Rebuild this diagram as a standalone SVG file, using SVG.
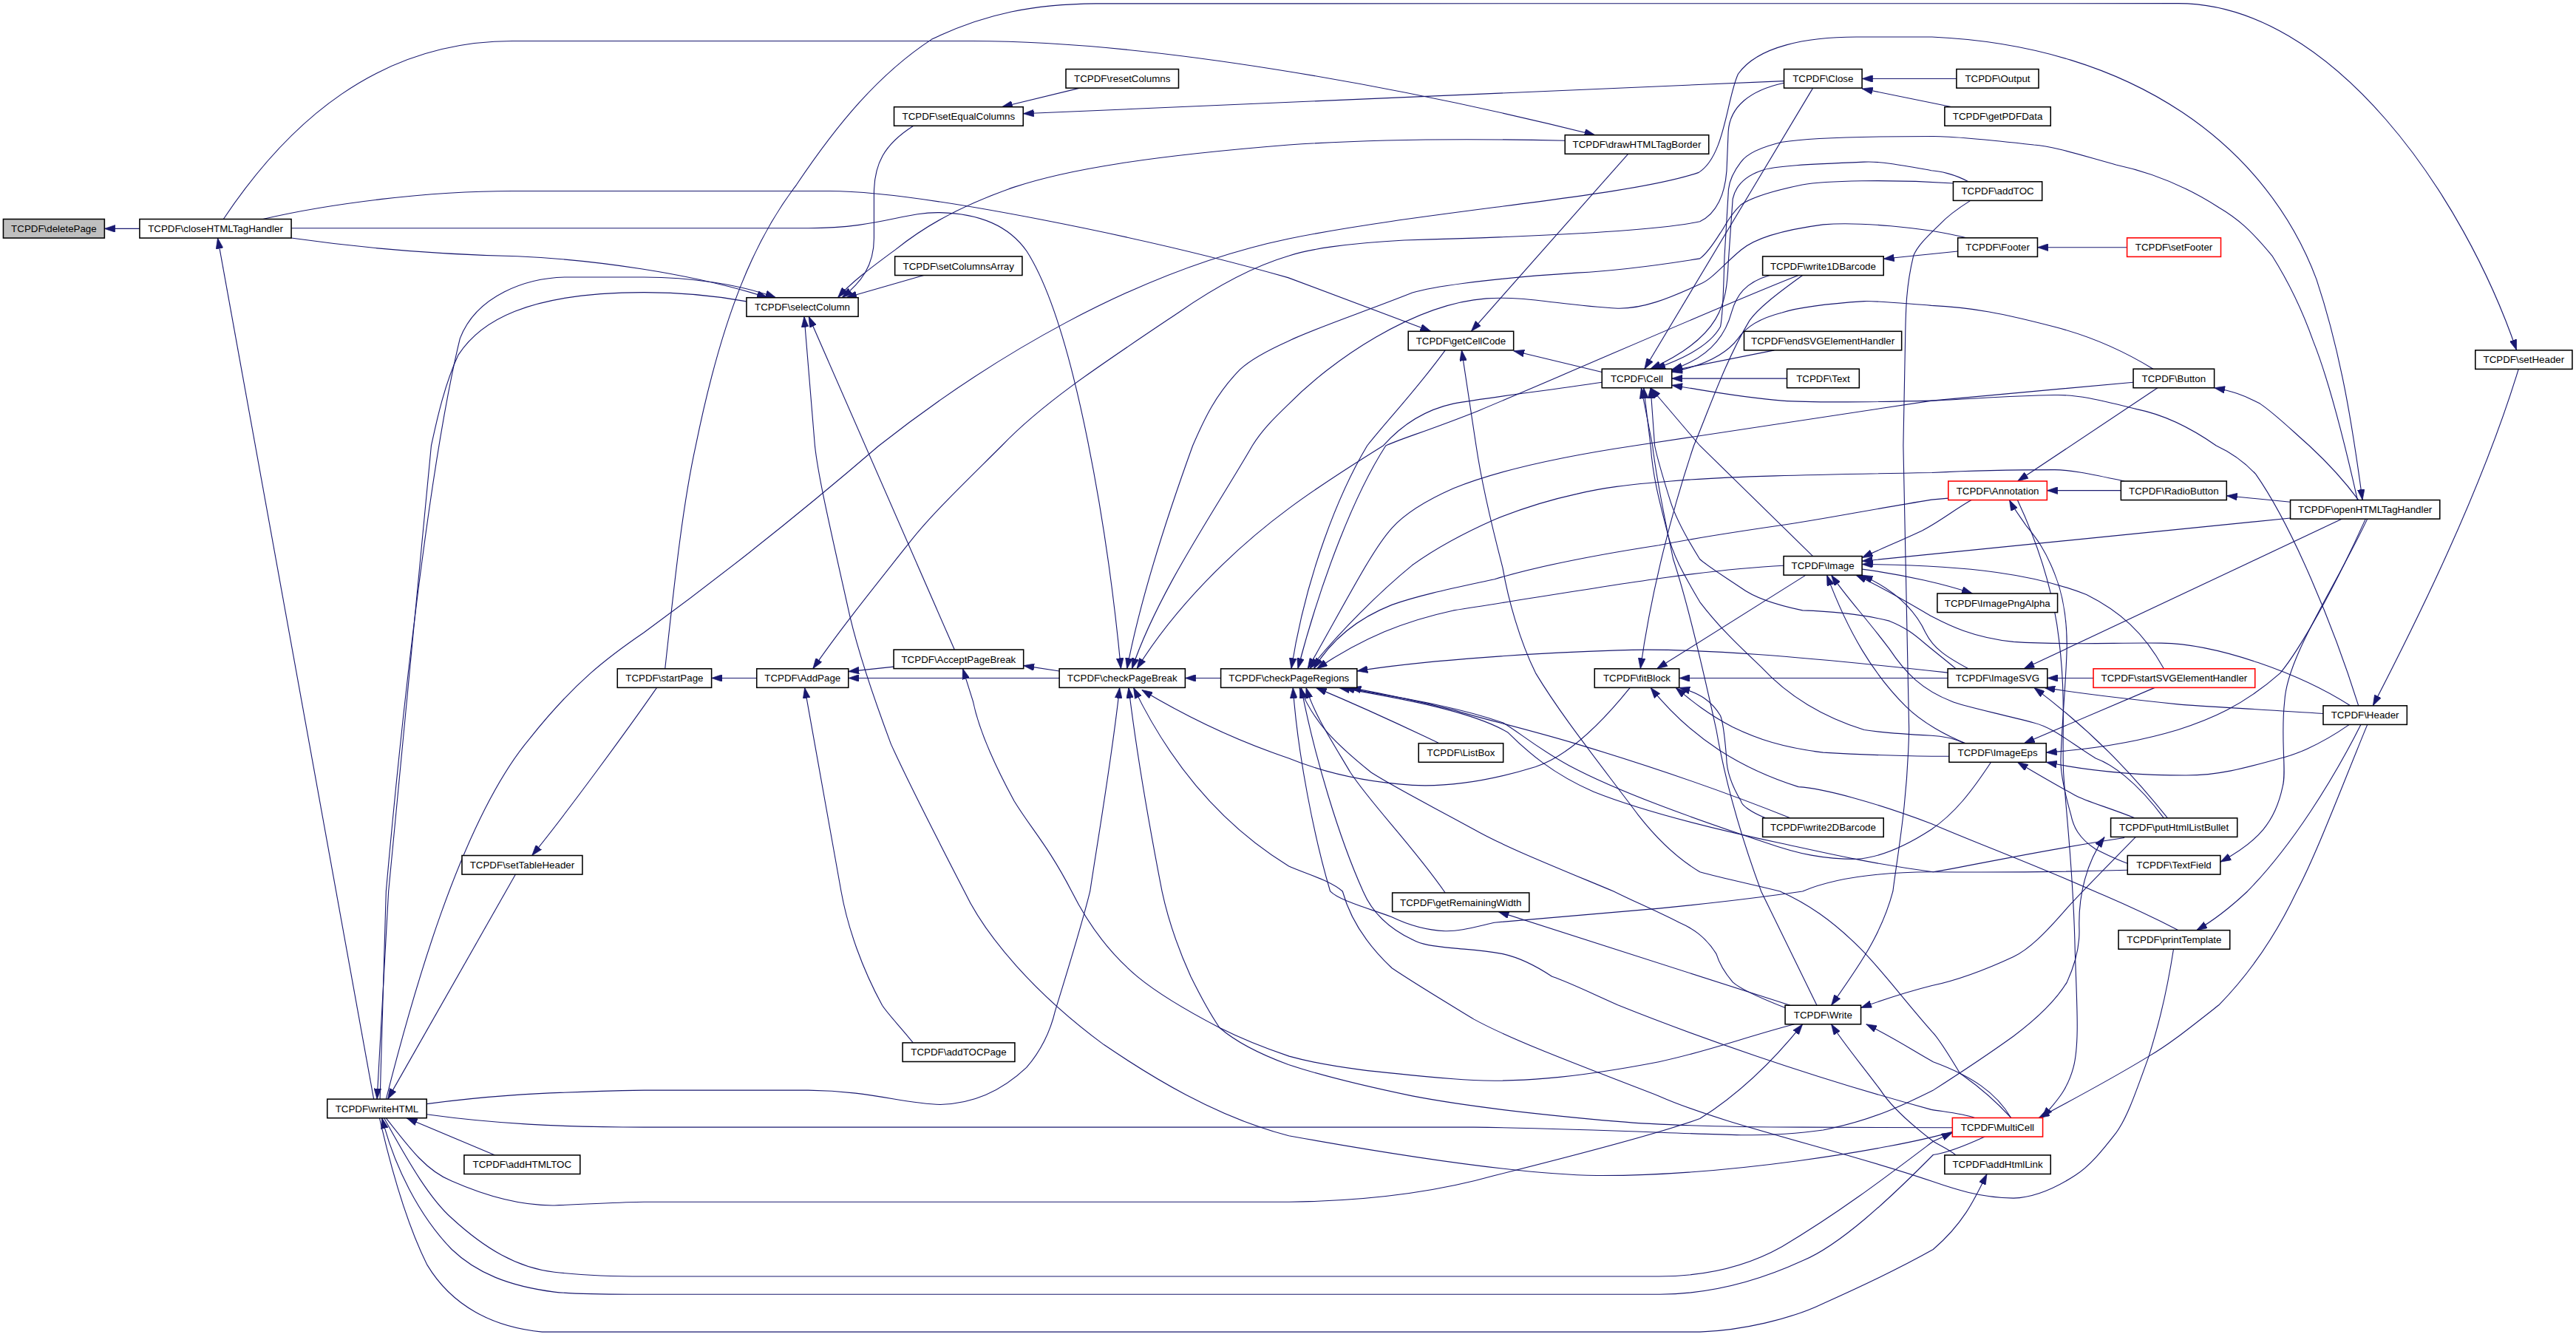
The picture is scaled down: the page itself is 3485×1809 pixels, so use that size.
<svg xmlns="http://www.w3.org/2000/svg" width="3485" height="1809" viewBox="0 0 3485 1809">
<style>
.n rect{fill:#fff;stroke:#000;stroke-width:0.7}
.n.red rect{stroke:#ff0000}
.n.root rect{fill:#bfbfbf}
.n text{font-family:"Liberation Sans",Arial,Helvetica,sans-serif;font-size:6px;text-anchor:middle;fill:#000}
#edges path{fill:none;stroke:#191970;stroke-width:0.5;marker-end:url(#a)}
</style>
<defs>
<marker id="a" markerUnits="userSpaceOnUse" viewBox="0 0 6.5 4.4" markerWidth="6.5" markerHeight="4.4" refX="6.5" refY="2.2" orient="auto"><path d="M0,0 L6.5,2.2 L0,4.4 z" fill="#191970" stroke="#191970" stroke-width="0.3"/></marker>
</defs>
<rect width="3485" height="1809" fill="#fff"/>
<g transform="scale(2.2226)">
<g id="edges">
<path d="M85,139.2 L63.6,139.2"/>
<path d="M227.5,669.1 L132.5,144.9"/>
<path d="M136,133.4 C175,75 230,25 312,25 L592,25 C700,25 850,52 970.9,82.2"/>
<path d="M160,133.4 C200,124 260,116.3 312,116.3 L505,116.3 C560,116.3 700,145 784,169 L871,201.7"/>
<path d="M177.3,138.9 L492,138.9 C535,138.9 550,129 572,129.4 C600,130 616,140 625,153 C655,200 675,330 682.3,407.1"/>
<path d="M177.3,144.9 C220,151 270,155 315,156 C360,158 420,166 467.3,181.2"/>
<path d="M231.3,669.1 L235,542.6 C245,430 262,280 280,206 C290,180 320,169 345,168.7 L392,168.7 C420,168.7 450,173 472.3,181.2"/>
<path d="M454.4,183.5 C430,179 410,178 392,178 C320,178 292,196 279,216 C270,235 265,260 262.5,271.3 L236.5,542.6 L229.5,669.1"/>
<path d="M313.8,532.3 L236,669.1"/>
<path d="M399.8,418.6 C385,440 345,495 323.8,520.8"/>
<path d="M404.8,407.1 C410,360 415,310 423.5,271.3 C440,190 460,145 484.8,112.5 C510,75 535,45 567,24 C600,8 630,2.5 667,2.2 L1325.6,2.1 C1420,2 1500,120 1531.8,213.2"/>
<path d="M235,669.1 C250,610 280,500 322.5,449.5 C350,415 370,400 392,385 C440,350 490,310 535,271.3 C600,220 690,165 784.5,145.3 C870,128 990,120 1034,105 C1050,95 1051,60 1058,45 C1070,28 1100,22.5 1130,22.5 L1176,22.5 C1300,28 1380,90 1410,170 C1425,215 1432,260 1438,304.4"/>
<path d="M657.3,53.6 L609.8,65.1"/>
<path d="M1085.9,49.3 C900,56 750,63 622.8,69.2"/>
<path d="M556,76.6 C538,88 532,100 532,118 L532,145 C532,162 524,172 512.5,181.2"/>
<path d="M562.3,167.6 L515,181.2"/>
<path d="M952.6,85.6 C880,84 830,85 784.5,88.2 C700,95 650,103 617,114 C580,127 560,140 545,152 C530,163 518,172 510,181.2"/>
<path d="M581,395.5 L492.3,192.7"/>
<path d="M1188.4,689 C1150,700 1050,716 972,715.6 C930,715 860,705 784.5,691.4 C740,680 700,655 672,636 C630,605 600,570 587,542.6 C565,500 550,470 542.3,452.9 C530,420 522,395 517.3,375.1 C505,320 498,290 496,271.3 L489.5,192.7"/>
<path d="M1085.9,50.5 C1065,55 1053,65 1052,80 L1051,104 C1050,118 1045,130 1034.7,134.9 C1000,142 900,145 854.7,146.2 C820,148 795,152 784.7,155.7 C760,163 735,178 717.3,190.3 C670,222 635,245 609.8,271.3 C585,296 565,315 552.3,331.9 C530,360 510,385 494.8,407.1"/>
<path d="M460.6,412.8 L433.1,412.8"/>
<path d="M544,405.9 L516.4,408.8"/>
<path d="M644.8,412.8 L516.4,412.8"/>
<path d="M644.8,408.5 L623,405.2"/>
<path d="M1092.2,623.5 C1060,632 1040,640 1009.7,646.4 C960,656 920,660 884.7,656.8 C840,653 810,650 784.7,643 C770,638 755,632 742.3,625.6 C720,614 705,605 692.3,594.5 C675,580 662,562 652.3,542.6 C638,515 628,505 617.3,487.6 C605,465 596,445 592.3,427 L586,407"/>
<path d="M555.8,634.8 C548,625 541,618 537,612 C525,590 516,565 512,542.6 L489.8,418.6"/>
<path d="M743.1,412.8 L721.4,412.8"/>
<path d="M975.1,232.7 C940,238 905,242 884.7,245.7 C865,250 852,260 842,271.3 C820,285 800,298 784.7,309.4 C750,335 715,370 692,407.1"/>
<path d="M1188.9,111.6 C1150,109 1110,110 1097,112.5 C1075,117 1065,121 1059.7,124.6 C1052,132 1050,138 1047,142 C1042,150 1038,155 1034.7,157.4 C1000,163 980,165 959.7,166.1 C900,170 870,175 859.7,178.2 C830,190 800,200 784.3,207.6 C770,214 760,220 754.8,224.9 C740,240 733,255 726,271.3 C712,310 695,360 686,407.1"/>
<path d="M1196.9,144.8 C1170,138 1130,135 1109.7,136.7 C1085,140 1068,145 1059.7,152.2 C1048,162 1042,170 1034.7,173 C1015,182 1000,188 984.7,187.7 C950,186 930,180 904.7,181.7 C860,185 810,220 784.7,245.7 C775,255 768,262 762.3,271.3 C740,310 705,360 689,407.1"/>
<path d="M879.7,213.2 C860,240 845,255 832.2,271.3 C815,300 795,350 786,407.1"/>
<path d="M1298.5,232.7 L1176,243.9 L995,271.3 C950,278 910,287 884.7,297.3 C865,306 853,315 847.2,321.5 C835,335 820,365 796,407.1"/>
<path d="M975.1,226.5 L921.3,213.6"/>
<path d="M991,93.7 L895.5,201.7"/>
<path d="M1224.1,680.5 C1210,665 1198,657 1193,653.4 C1185,640 1180,632 1176,628 C1160,610 1145,590 1132.2,577.2 C1115,560 1100,550 1083.5,542.6 C1065,538 1050,535 1034.7,530.8 C1020,522 1008,510 997.2,496.2 C970,460 950,435 934.7,409.7 C925,390 918,365 914.7,345.7 C908,320 902,295 898.5,271.3 L889.7,213.2"/>
<path d="M1103.5,53.6 L1001,224.6"/>
<path d="M1435,304.4 C1425,260 1415,225 1408,207.6 C1400,185 1392,170 1383,155.7 C1370,140 1362,133 1350.6,126.3 C1330,113 1310,105 1288,100.3 C1265,94 1250,89 1238,88.2 C1210,85 1190,83 1176.7,83 C1130,83 1100,84 1084.7,86.5 C1070,90 1063,94 1059.7,98.6 C1054,106 1052,112 1052,117.6 L1049.7,155.7 C1049,175 1049,190 1047.2,198.9 C1040,212 1020,220 1007.2,224.6"/>
<path d="M1198.1,110.6 C1190,106 1180,104 1175.6,103.8 C1160,101 1145,98 1134.7,98.6 C1100,100 1080,101 1072.2,103.8 C1060,108 1056,115 1054.7,121.1 L1052,160 C1051,185 1048,205 1004.5,224.6"/>
<path d="M1191.7,153 L1146.5,157.6"/>
<path d="M1294.7,150.6 L1240.2,150.6"/>
<path d="M1190.9,47.9 L1133.4,47.9"/>
<path d="M1188.1,65.1 L1133.4,54"/>
<path d="M1080,213.2 L1017.6,225.6"/>
<path d="M1087.7,230.4 L1017.6,230.4"/>
<path d="M1310.6,224.6 C1290,212 1270,204 1250.6,199 C1220,191 1200,187 1175.6,186 C1150,184 1140,183 1134.7,183.4 C1110,185 1095,187 1084.7,190.3 C1070,194 1062,200 1058,206 C1052,214 1040,222 1017.6,226.5"/>
<path d="M1435.6,429.6 C1420,380 1395,320 1373,288.6 C1365,280 1357,275 1349,271.3 C1330,258 1315,252 1300.6,249.1 C1280,244 1265,240 1250.6,240.5 C1220,241 1200,243 1175.6,243.9 C1130,245 1100,245 1084.7,243.9 C1060,242 1040,238 1017.6,234.5"/>
<path d="M1077.2,167.6 C1062,172 1057,180 1054,190 C1050,205 1040,218 1017.6,225"/>
<path d="M1094.7,167.6 C1050,185 960,225 900,250 C870,262 850,268 843.5,271.3 C825,300 805,350 790,407.1"/>
<path d="M1097.2,167.6 C1080,180 1070,188 1065,195 C1050,220 1040,250 1031,271.3 C1018,310 1005,360 998.5,407.1"/>
<path d="M1103.5,338.6 L1034.7,271.3 L1004.7,236.1"/>
<path d="M1105.9,612 L1072,542.6 C1060,510 1050,475 1044.7,444.3 C1035,400 1025,360 1018.5,340.5 C1012,310 1008,290 1005.9,271.3 L999,236.1"/>
<path d="M1190.6,407.1 C1182,400 1178,397 1172,392 C1165,386 1160,382 1150,378 C1130,373 1110,372 1097.2,371.6 C1080,368 1068,364 1059.7,357.8 C1048,350 1040,345 1034.7,340.5 C1025,325 1020,315 1017,305.9 C1012,290 1009,280 1007.2,271.3 L1004.7,236.1"/>
<path d="M1196,452.5 C1188,449 1182,448 1175.6,447.8 C1160,447 1145,446 1134.7,444.3 C1105,435 1085,420 1072.2,406.2 C1055,390 1045,380 1034.7,366.5 C1025,350 1018,338 1014.7,323.2 C1010,305 1006,290 1004.7,271.3 L1000.5,236.1"/>
<path d="M1293.1,292.9 C1270,288 1260,286 1250.6,286 C1210,286 1190,287 1176,287.7 C1100,289 1050,290 1017.2,292.9 C990,295 975,297 959.7,300.7 C940,305 925,310 909.7,316.3 C890,325 875,333 859.7,344 C840,360 815,385 797.2,407.1"/>
<path d="M1185.9,303.3 L1175.6,304.2 C1140,310 1110,316 1084.7,319.7 C1055,324 1030,328 1009.7,331.9 C970,338 935,345 909.7,352.6 C885,358 865,362 847.2,368.2 C825,377 810,390 799.7,407.1"/>
<path d="M1085.7,344.3 C1030,347 960,360 884.7,371.6 C855,378 830,388 801.5,407.1"/>
<path d="M1185.6,409.5 C1100,400 1030,394 984.7,395.9 C920,398 860,403 826,408.5"/>
<path d="M876,452.5 C860,445 840,435 801,418.6"/>
<path d="M1089.7,498 C1040,478 990,462 959.7,452.9 C930,444 900,437 884.7,432.2 C860,426 840,422 822,418.6"/>
<path d="M1295,529.7 C1250,531 1200,531 1175.6,530.8 C1140,531 1115,535 1097.2,542.6 C1060,548 1030,551 1009.7,553 C960,557 930,560 909.7,561.6 C895,565 888,567 879.7,566.8 C865,566 855,562 847.2,558.2 C830,552 815,548 809.7,542.6 C800,510 790,460 787,418.6"/>
<path d="M1293.1,510 C1240,518 1200,527 1176.7,530.8 C1140,526 1110,519 1084.7,513.5 C1040,504 1000,494 970,482 C945,471 930,458 918,446 C895,432 845,424 815,418.6"/>
<path d="M1086.6,613.5 C1065,605 1057,600 1054.7,597.9 C1048,590 1046,585 1044.7,580.7 C1038,570 1030,565 1022.2,561.6 C1005,553 995,549 982.2,542.6 C940,525 915,515 897.2,504.9 C870,490 850,480 834.7,470.3 C812,452 800,440 791,418.6"/>
<path d="M879.7,543.5 C860,515 835,490 822,470.3 C810,450 800,435 795,418.6"/>
<path d="M1202,680.5 C1195,678 1185,677 1175.6,675.5 C1100,655 1030,630 984.7,611.8 C965,603 955,598 944.7,594.5 C935,588 925,583 914.7,580.7 C900,578 892,578 884.7,577.2 C872,576 865,575 859.7,572 C845,565 835,555 829.7,542.6 C815,510 800,460 792,418.6"/>
<path d="M1323,577.8 C1318,610 1312,630 1308,643 C1300,665 1295,680 1288,689.7 C1280,700 1272,710 1263,715.6 C1250,724 1238,729 1225.6,729.4 C1205,729 1190,724 1175.6,719 C1120,700 1050,685 1009.7,667.2 C960,648 920,633 897.2,620.5 C875,607 860,598 847.2,589.3 C832,575 822,560 817.2,542.6 C810,536 795,532 784.5,527.3 C740,500 710,460 690,418.6"/>
<path d="M259.7,672 C290,668 320,665 392,663.7 L492,663.7 C530,664 550,672 572.3,672.4 C595,672 612,662 624.8,649.9 C635,638 640,625 642.3,615.3 C650,590 658,565 663.5,542.6 C670,500 677,460 681.5,418.6"/>
<path d="M1188.4,686.5 L1097.2,686.2 C1050,686 1010,685 984.7,682.7 C930,678 890,673 859.7,667.2 C830,661 805,655 784.3,648.1 C765,641 752,634 742.3,625.6 C735,615 730,605 724.8,594.5 C716,575 711,560 707.3,542.6 C700,505 692,460 687,418.6"/>
<path d="M992.2,418.6 C975,440 955,460 934.7,466.8 C905,476 880,479 859.7,478 C830,476 805,470 784.5,461.6 C750,450 720,435 695,420"/>
<path d="M235,680.6 C250,700 260,713 275,719 C300,730 320,734 337.5,733.8 C360,733 380,731.7 392,731.7 L784.7,731.7 C840,731 880,724 909.7,715.6 C960,703 1010,690 1034.7,681 C1060,665 1080,645 1097.2,623.5"/>
<path d="M233.8,680.6 C250,710 262,730 275,741.6 C295,760 315,772 337.5,774.4 C360,777 380,777 392,777 L1009.7,777 C1040,777 1065,770 1084.7,758.9 C1120,738 1150,715 1176.7,694.8 L1188.4,689.5"/>
<path d="M1208.1,692 C1195,698 1185,702 1176.7,703 C1150,730 1120,758 1097.2,767.5 C1070,780 1040,788 1009.7,787.9 L392,787.9 C370,788 350,788 337.5,786.5 C310,783 290,775 275,760.6 C255,740 240,710 232.5,680.6"/>
<path d="M231,680.6 C240,720 250,750 260,770 C275,795 300,808 330,810.8 L1034.7,810.8 C1060,810 1090,803 1109.7,793.5 C1140,780 1160,770 1176.7,760.6 C1195,745 1202,730 1209.4,714.7"/>
<path d="M1190.6,703.2 C1185,699 1180,697 1176.7,694.8 C1160,682 1150,672 1144.7,663.7 C1133,648 1122,635 1114.7,623.5"/>
<path d="M1224.1,680.5 C1215,665 1200,655 1176.7,646.4 C1165,640 1155,633 1135.9,623.5"/>
<path d="M1300,509.5 C1280,530 1265,545 1258,553 C1245,568 1235,578 1225.6,582.4 C1205,592 1190,597 1176,600 C1160,604 1148,608 1132.7,613.5"/>
<path d="M259.7,678.4 C300,684 340,686.2 392,686.2 L897.2,686.2 C960,687 1020,690 1059.7,691 C1080,691 1095,690 1109.7,687.9 C1140,682 1160,672 1176.7,663.7 C1195,652 1210,642 1225.6,630.8 C1240,620 1252,608 1258.1,598 C1264,585 1266,575 1265.6,565.1 C1265,545 1270,525 1281,509.5"/>
<path d="M1437,441.1 C1420,475 1395,515 1368,542.6 C1358,552 1348,560 1337,566.3"/>
<path d="M1441,441.1 C1425,480 1410,520 1398,542.6 C1385,570 1370,592 1350.6,611.8 C1330,628 1320,636 1308,643 C1280,660 1260,670 1241,680.5"/>
<path d="M1326,566.3 C1300,553 1285,547 1275,542.6 C1240,527 1200,512 1175.6,501.4 C1140,488 1110,480 1094.7,479 C1060,468 1030,450 1004.7,418.6"/>
<path d="M1533,224.7 C1510,300 1470,380 1444.4,429.6"/>
<path d="M1313.3,236.1 L1228.1,292.9"/>
<path d="M1291,298.6 L1246,298.6"/>
<path d="M1394.1,305.6 L1355.3,301.8"/>
<path d="M1435.6,304.4 C1425,290 1415,280 1405.6,271.3 C1395,262 1385,252 1375.6,245.7 C1365,240 1358,238 1347.8,236.1"/>
<path d="M1200,304.4 C1190,310 1180,318 1170,323 C1155,330 1145,334 1133.4,339.5"/>
<path d="M1133.4,346.5 C1160,350 1185,356 1200.6,361.3"/>
<path d="M1394.1,315.4 L1133.4,341.6"/>
<path d="M1317.1,407.1 C1305,385 1290,372 1270,362 C1240,350 1200,344 1133.4,343.5"/>
<path d="M1430.6,429.6 C1400,410 1350,392 1315.6,391.5 C1290,391 1260,393 1225.6,390.7 C1200,388 1185,380 1175.6,375.1 C1160,366 1145,357 1129.7,350.1"/>
<path d="M1317.1,498 C1300,475 1285,465 1275.6,461.6 C1260,452 1250,443 1238,440 C1215,434 1195,430 1188,427 C1170,420 1160,410 1150,395 C1135,375 1125,365 1114.7,350.1"/>
<path d="M1198.1,407.1 C1185,400 1177,395 1172,385 C1166,372 1155,360 1133.4,350.1"/>
<path d="M1196.4,452.5 C1185,448 1170,440 1160,430 C1140,410 1125,385 1112,350.1"/>
<path d="M1099.2,350.1 L1008.5,407.1"/>
<path d="M1274.2,412.8 L1246.2,412.8"/>
<path d="M1425.6,315.9 L1231.9,407.1"/>
<path d="M1414.1,434.4 C1380,432 1340,430 1325.6,428.7 C1290,425 1265,422 1244.4,418.6"/>
<path d="M1319.4,498 C1305,480 1280,450 1238.1,418.6"/>
<path d="M1185.6,412.8 L1022.1,412.8"/>
<path d="M1074.7,498 C1065,494 1060,490 1059.7,487.6 C1054,478 1051,470 1050.9,461.6 C1050,450 1049,440 1047.2,435.6 C1042,427 1035,422 1022.1,418.6"/>
<path d="M1186.4,460.4 L1175.6,460.4 C1150,460 1125,459 1109.7,458.1 C1085,455 1070,450 1054.7,442.6 C1040,435 1030,427 1020,418.6"/>
<path d="M1439.9,315.9 C1420,360 1400,395 1388,409.7 C1365,430 1345,438 1325.6,444.3 C1300,452 1275,456 1245.5,458.1"/>
<path d="M1441,315.9 C1420,360 1392,400 1390.6,427 C1388,450 1392,470 1389.4,478.9 C1385,500 1375,512 1351.5,524.7"/>
<path d="M1311.6,418.6 L1232,452.5"/>
<path d="M1430,441.1 C1410,455 1395,460 1388,461.6 C1365,468 1350,472 1330.6,472 C1300,472 1270,469 1245.5,464"/>
<path d="M1299.4,498 C1285,492 1270,488 1263,484.1 C1250,477 1238,470 1228,464"/>
<path d="M1211.9,464 C1200,482 1190,495 1175.6,504.9 C1160,515 1145,522 1130,523 C1110,523 1095,520 1075,513 C1030,498 985,482 955,466 C935,455 925,446 915,440 C880,428 840,423 818,418.6"/>
<path d="M1295,525.6 C1285,522 1278,518 1275.6,517 C1265,510 1262,503 1260.6,496.2 C1256,480 1254,470 1254.4,461.6 C1255,440 1258,410 1258.1,392.4 C1258,375 1255,360 1250.6,349.2 C1245,335 1240,328 1233.1,319.7 C1230,315 1226,310 1223.1,304.4"/>
<path d="M1228,304.4 C1240,330 1248,355 1252,380 C1258,420 1255,445 1256,470 C1258,500 1262,530 1263,577 C1264,610 1266,635 1262,650 C1258,665 1250,672 1243.1,680.5"/>
<path d="M301.3,703.2 L247.5,680.6"/>
<path d="M1089.7,612 L912,555"/>
<path d="M1199.4,122.1 C1190,128 1185,132 1180.6,136.7 C1172,145 1167,150 1164.7,155.7 C1160,175 1160,190 1159.7,207.6 L1158.5,271.3 L1162,444 C1161,490 1155,520 1152.2,542.6 C1145,570 1130,590 1114.7,612"/>
</g>
<g id="n_deletePage" class="n root"><rect x="2" y="133.4" width="61.6" height="11.5"/><text x="32.8" y="141.3">TCPDF\deletePage</text></g>
<g id="n_closeHTMLTagHandler" class="n"><rect x="85" y="133.4" width="92.3" height="11.5"/><text x="131.15" y="141.3">TCPDF\closeHTMLTagHandler</text></g>
<g id="n_resetColumns" class="n"><rect x="648.8" y="42.1" width="68.6" height="11.5"/><text x="683.1" y="50">TCPDF\resetColumns</text></g>
<g id="n_setEqualColumns" class="n"><rect x="544.2" y="65.1" width="78.6" height="11.5"/><text x="583.5" y="73">TCPDF\setEqualColumns</text></g>
<g id="n_setColumnsArray" class="n"><rect x="544.7" y="156.1" width="77.5" height="11.5"/><text x="583.45" y="164">TCPDF\setColumnsArray</text></g>
<g id="n_selectColumn" class="n"><rect x="454.4" y="181.2" width="68" height="11.5"/><text x="488.4" y="189.1">TCPDF\selectColumn</text></g>
<g id="n_Close" class="n"><rect x="1085.9" y="42.1" width="47.5" height="11.5"/><text x="1109.65" y="50">TCPDF\Close</text></g>
<g id="n_drawHTMLTagBorder" class="n"><rect x="952.6" y="82.2" width="87.5" height="11.5"/><text x="996.35" y="90.1">TCPDF\drawHTMLTagBorder</text></g>
<g id="n_write1DBarcode" class="n"><rect x="1072.9" y="156.1" width="73.6" height="11.5"/><text x="1109.7" y="164">TCPDF\write1DBarcode</text></g>
<g id="n_getCellCode" class="n"><rect x="857.2" y="201.7" width="64.1" height="11.5"/><text x="889.25" y="209.6">TCPDF\getCellCode</text></g>
<g id="n_endSVGElementHandler" class="n"><rect x="1061.6" y="201.7" width="95.9" height="11.5"/><text x="1109.55" y="209.6">TCPDF\endSVGElementHandler</text></g>
<g id="n_Cell" class="n"><rect x="975.1" y="224.6" width="42.5" height="11.5"/><text x="996.35" y="232.5">TCPDF\Cell</text></g>
<g id="n_Text" class="n"><rect x="1087.7" y="224.6" width="44" height="11.5"/><text x="1109.7" y="232.5">TCPDF\Text</text></g>
<g id="n_Output" class="n"><rect x="1190.9" y="42.1" width="50" height="11.5"/><text x="1215.9" y="50">TCPDF\Output</text></g>
<g id="n_getPDFData" class="n"><rect x="1183.7" y="65.1" width="64.5" height="11.5"/><text x="1215.95" y="73">TCPDF\getPDFData</text></g>
<g id="n_addTOC" class="n"><rect x="1188.9" y="110.6" width="54.1" height="11.5"/><text x="1215.95" y="118.5">TCPDF\addTOC</text></g>
<g id="n_Footer" class="n"><rect x="1191.7" y="144.8" width="48.5" height="11.5"/><text x="1215.95" y="152.7">TCPDF\Footer</text></g>
<g id="n_setFooter" class="n red"><rect x="1294.7" y="144.8" width="57.1" height="11.5"/><text x="1323.25" y="152.7">TCPDF\setFooter</text></g>
<g id="n_Button" class="n"><rect x="1298.5" y="224.6" width="49.3" height="11.5"/><text x="1323.15" y="232.5">TCPDF\Button</text></g>
<g id="n_setHeader" class="n"><rect x="1506.7" y="213.2" width="59" height="11.5"/><text x="1536.2" y="221.1">TCPDF\setHeader</text></g>
<g id="n_Annotation" class="n red"><rect x="1185.9" y="292.9" width="60.1" height="11.5"/><text x="1215.95" y="300.8">TCPDF\Annotation</text></g>
<g id="n_RadioButton" class="n"><rect x="1291" y="292.9" width="64.3" height="11.5"/><text x="1323.15" y="300.8">TCPDF\RadioButton</text></g>
<g id="n_openHTMLTagHandler" class="n"><rect x="1394.1" y="304.4" width="91" height="11.5"/><text x="1439.6" y="312.3">TCPDF\openHTMLTagHandler</text></g>
<g id="n_Image" class="n"><rect x="1085.7" y="338.6" width="47.7" height="11.5"/><text x="1109.55" y="346.5">TCPDF\Image</text></g>
<g id="n_ImagePngAlpha" class="n"><rect x="1179.2" y="361.3" width="73.2" height="11.5"/><text x="1215.8" y="369.2">TCPDF\ImagePngAlpha</text></g>
<g id="n_AcceptPageBreak" class="n"><rect x="544" y="395.5" width="79" height="11.5"/><text x="583.5" y="403.4">TCPDF\AcceptPageBreak</text></g>
<g id="n_startPage" class="n"><rect x="375.8" y="407.1" width="57.3" height="11.5"/><text x="404.45" y="415">TCPDF\startPage</text></g>
<g id="n_AddPage" class="n"><rect x="460.6" y="407.1" width="55.8" height="11.5"/><text x="488.5" y="415">TCPDF\AddPage</text></g>
<g id="n_checkPageBreak" class="n"><rect x="644.8" y="407.1" width="76.6" height="11.5"/><text x="683.1" y="415">TCPDF\checkPageBreak</text></g>
<g id="n_checkPageRegions" class="n"><rect x="743.1" y="407.1" width="82.9" height="11.5"/><text x="784.55" y="415">TCPDF\checkPageRegions</text></g>
<g id="n_fitBlock" class="n"><rect x="970.6" y="407.1" width="51.5" height="11.5"/><text x="996.35" y="415">TCPDF\fitBlock</text></g>
<g id="n_ImageSVG" class="n"><rect x="1185.6" y="407.1" width="60.6" height="11.5"/><text x="1215.9" y="415">TCPDF\ImageSVG</text></g>
<g id="n_startSVGElementHandler" class="n red"><rect x="1274.2" y="407.1" width="98.4" height="11.5"/><text x="1323.4" y="415">TCPDF\startSVGElementHandler</text></g>
<g id="n_Header" class="n"><rect x="1414.1" y="429.6" width="51" height="11.5"/><text x="1439.6" y="437.5">TCPDF\Header</text></g>
<g id="n_ListBox" class="n"><rect x="863.5" y="452.5" width="51.5" height="11.5"/><text x="889.25" y="460.4">TCPDF\ListBox</text></g>
<g id="n_ImageEps" class="n"><rect x="1186.4" y="452.5" width="59.1" height="11.5"/><text x="1215.95" y="460.4">TCPDF\ImageEps</text></g>
<g id="n_write2DBarcode" class="n"><rect x="1072.9" y="498" width="73.6" height="11.5"/><text x="1109.7" y="505.9">TCPDF\write2DBarcode</text></g>
<g id="n_putHtmlListBullet" class="n"><rect x="1284.8" y="498" width="77" height="11.5"/><text x="1323.3" y="505.9">TCPDF\putHtmlListBullet</text></g>
<g id="n_setTableHeader" class="n"><rect x="281.2" y="520.8" width="73.3" height="11.5"/><text x="317.85" y="528.7">TCPDF\setTableHeader</text></g>
<g id="n_TextField" class="n"><rect x="1295" y="520.8" width="56.5" height="11.5"/><text x="1323.25" y="528.7">TCPDF\TextField</text></g>
<g id="n_getRemainingWidth" class="n"><rect x="847.5" y="543.5" width="83.3" height="11.5"/><text x="889.15" y="551.4">TCPDF\getRemainingWidth</text></g>
<g id="n_printTemplate" class="n"><rect x="1289.5" y="566.3" width="67.8" height="11.5"/><text x="1323.4" y="574.2">TCPDF\printTemplate</text></g>
<g id="n_Write" class="n"><rect x="1086.6" y="612" width="46.1" height="11.5"/><text x="1109.65" y="619.9">TCPDF\Write</text></g>
<g id="n_addTOCPage" class="n"><rect x="549.4" y="634.8" width="68.3" height="11.5"/><text x="583.55" y="642.7">TCPDF\addTOCPage</text></g>
<g id="n_writeHTML" class="n"><rect x="199.2" y="669.1" width="60.5" height="11.5"/><text x="229.45" y="677">TCPDF\writeHTML</text></g>
<g id="n_MultiCell" class="n red"><rect x="1188.4" y="680.5" width="55" height="11.5"/><text x="1215.9" y="688.4">TCPDF\MultiCell</text></g>
<g id="n_addHTMLTOC" class="n"><rect x="282.5" y="703.2" width="70.6" height="11.5"/><text x="317.8" y="711.1">TCPDF\addHTMLTOC</text></g>
<g id="n_addHtmlLink" class="n"><rect x="1183.7" y="703.2" width="64.5" height="11.5"/><text x="1215.95" y="711.1">TCPDF\addHtmlLink</text></g>
</g>
</svg>
